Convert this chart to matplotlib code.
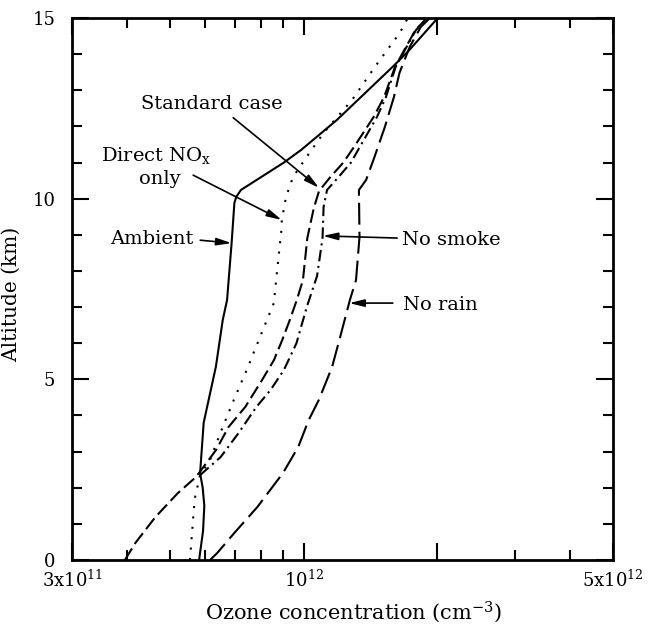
import numpy as np
import matplotlib
matplotlib.use("Agg")
import matplotlib.pyplot as plt
from matplotlib.ticker import MultipleLocator, NullFormatter

plt.rcParams['font.family'] = 'DejaVu Serif'
plt.rcParams['mathtext.fontset'] = 'dejavuserif'
plt.rcParams['mathtext.default'] = 'regular'

# ozone profiles, concentration in units of 1e11 cm^-3 against altitude in km
ambient_alt = [0, 0.8, 1.5, 2.0, 2.4, 3.8, 5.35, 6.64, 7.2, 8.77, 9.88, 10.05, 10.24,
               11.0, 11.35, 12.18, 13.65, 14.1, 15]
ambient_conc = [5.81, 5.93, 5.97, 5.92, 5.84, 5.95, 6.34, 6.57, 6.72, 6.88, 6.98, 7.05, 7.22,
                9.03, 9.88, 11.9, 15.9, 17.3, 20.1]

nox_alt = [0, 1.0, 1.7, 2.35, 2.77, 3.6, 4.43, 5.34, 6.28, 7.11, 8.03, 9.22, 9.41,
           10.05, 10.6, 11.07, 11.82, 12.73, 13.65, 14.59, 15]
nox_conc = [5.54, 5.62, 5.68, 5.84, 6.15, 6.53, 6.96, 7.49, 8.04, 8.57, 8.72, 8.93, 8.93,
            9.13, 9.47, 10.05, 11.1, 12.87, 14.5, 16.5, 17.2]

std_alt = [0, 0.47, 1.19, 1.85, 2.3, 3.05, 3.68, 4.24, 4.98, 5.54, 6.1, 6.64, 7.2, 7.75,
           8.91, 9.74, 10.21, 10.6, 11.0, 11.43, 12.26, 12.81, 13.65, 14.12, 14.67, 15]
std_conc = [3.95, 4.17, 4.63, 5.20, 5.72, 6.35, 6.77, 7.39, 8.06, 8.58, 8.96, 9.31, 9.66, 9.97,
            10.2, 10.55, 10.84, 11.5, 12.3, 13.0, 14.4, 15.2, 16.1, 16.9, 17.9, 19.0]

nosmoke_alt = [2.35, 2.85, 3.51, 4.23, 4.71, 5.26, 6.0, 7.0, 7.86, 8.91, 9.77, 10.24,
               10.6, 11.0, 11.43, 12.26, 12.81, 13.65, 14.12, 14.67, 15]
nosmoke_conc = [5.84, 6.50, 7.13, 7.82, 8.43, 9.03, 9.64, 10.17, 10.73, 11.04, 11.1, 11.3,
                12.0, 12.8, 13.4, 14.65, 15.35, 16.15, 16.95, 17.95, 19.05]

norain_alt = [0, 0.19, 0.75, 1.47, 2.41, 3.13, 3.87, 4.43, 5.34, 6.09, 7.2, 7.75, 8.94,
              10.24, 10.52, 11.15, 11.98, 12.81, 13.48, 14.2, 14.75, 15]
norain_conc = [6.15, 6.38, 6.98, 7.87, 8.99, 9.73, 10.27, 10.83, 11.6, 12.05, 12.73, 13.14, 13.38,
               13.34, 13.85, 14.46, 15.26, 16.0, 16.47, 17.37, 18.4, 19.3]

xtick_pos = [3e11, 1e12, 2e12, 5e12]
xtick_labels = ['3x10$^{11}$', '10$^{12}$', '', '5x10$^{12}$']
xminor_pos = [4e11, 5e11, 6e11, 7e11, 8e11, 9e11, 3e12, 4e12]

fig = plt.figure(figsize=(6.61, 6.30), dpi=100)
ax = fig.add_axes([72 / 661, 1 - 560 / 630, 541 / 661, 542 / 630])

lw = 1.5
ax.plot(np.array(ambient_conc) * 1e11, ambient_alt, color='black', lw=lw, ls='-')
ax.plot(np.array(nox_conc) * 1e11, nox_alt, color='black', lw=lw, ls=(0, (1, 4)))
ax.plot(np.array(std_conc) * 1e11, std_alt, color='black', lw=lw, ls=(0, (6.5, 2.5)))
ax.plot(np.array(nosmoke_conc) * 1e11, nosmoke_alt, color='black', lw=lw,
        ls=(0, (5.5, 2.2, 1, 2.2)))
ax.plot(np.array(norain_conc) * 1e11, norain_alt, color='black', lw=lw, ls=(0, (10.5, 3.4)))

ax.set_xscale('log')
ax.set_xlim(3e11, 5e12)
ax.set_ylim(0, 15)

ax.set_xticks(xtick_pos, xtick_labels)
ax.set_xticks(xminor_pos, minor=True)
ax.xaxis.set_minor_formatter(NullFormatter())
ax.set_yticks([0, 5, 10, 15])
ax.yaxis.set_minor_locator(MultipleLocator(1))

ax.tick_params(which='both', direction='in', top=True, right=True, width=1.5)
ax.tick_params(which='major', length=12)
ax.tick_params(which='minor', length=7)
ax.tick_params(axis='x', which='major', labelsize=13, pad=7)
ax.tick_params(axis='y', which='major', labelsize=13, pad=12)
for s in ax.spines.values():
    s.set_linewidth(2)

ax.set_xlabel('Ozone concentration (cm$^{-3}$)', fontsize=15)
ax.xaxis.set_label_coords(0.52, -0.072)
ax.set_ylabel('Altitude (km)', fontsize=14.5)
ax.yaxis.set_label_coords(-0.094, 0.49)

# curve labels with arrows
arrow = dict(arrowstyle='-|>,head_length=0.9,head_width=0.22', color='black', lw=1.2,
             shrinkA=0, shrinkB=0, mutation_scale=10)
fs = 14

ax.text(0.259, 0.841, 'Standard case', transform=ax.transAxes, fontsize=fs,
        ha='center', va='center')
ax.annotate('', xy=(10.84e11, 10.3), xytext=(0.298, 0.816), textcoords='axes fraction',
            arrowprops=arrow)

ax.text(0.155, 0.747, 'Direct NO$_x$', transform=ax.transAxes, fontsize=fs,
        ha='center', va='center')
ax.text(0.163, 0.703, 'only', transform=ax.transAxes, fontsize=fs,
        ha='center', va='center')
ax.annotate('', xy=(8.93e11, 9.41), xytext=(0.224, 0.710), textcoords='axes fraction',
            arrowprops=arrow)

ax.text(0.148, 0.592, 'Ambient', transform=ax.transAxes, fontsize=fs,
        ha='center', va='center')
ax.annotate('', xy=(6.88e11, 8.77), xytext=(0.237, 0.590), textcoords='axes fraction',
            arrowprops=arrow)

ax.text(0.61, 0.590, 'No smoke', transform=ax.transAxes, fontsize=fs,
        ha='left', va='center')
ax.annotate('', xy=(11.05e11, 8.97), xytext=(0.601, 0.594), textcoords='axes fraction',
            arrowprops=arrow)

ax.text(0.612, 0.470, 'No rain', transform=ax.transAxes, fontsize=fs,
        ha='left', va='center')
ax.annotate('', xy=(12.68e11, 7.11), xytext=(0.593, 0.474), textcoords='axes fraction',
            arrowprops=arrow)

fig.savefig('out.png', dpi=100)
